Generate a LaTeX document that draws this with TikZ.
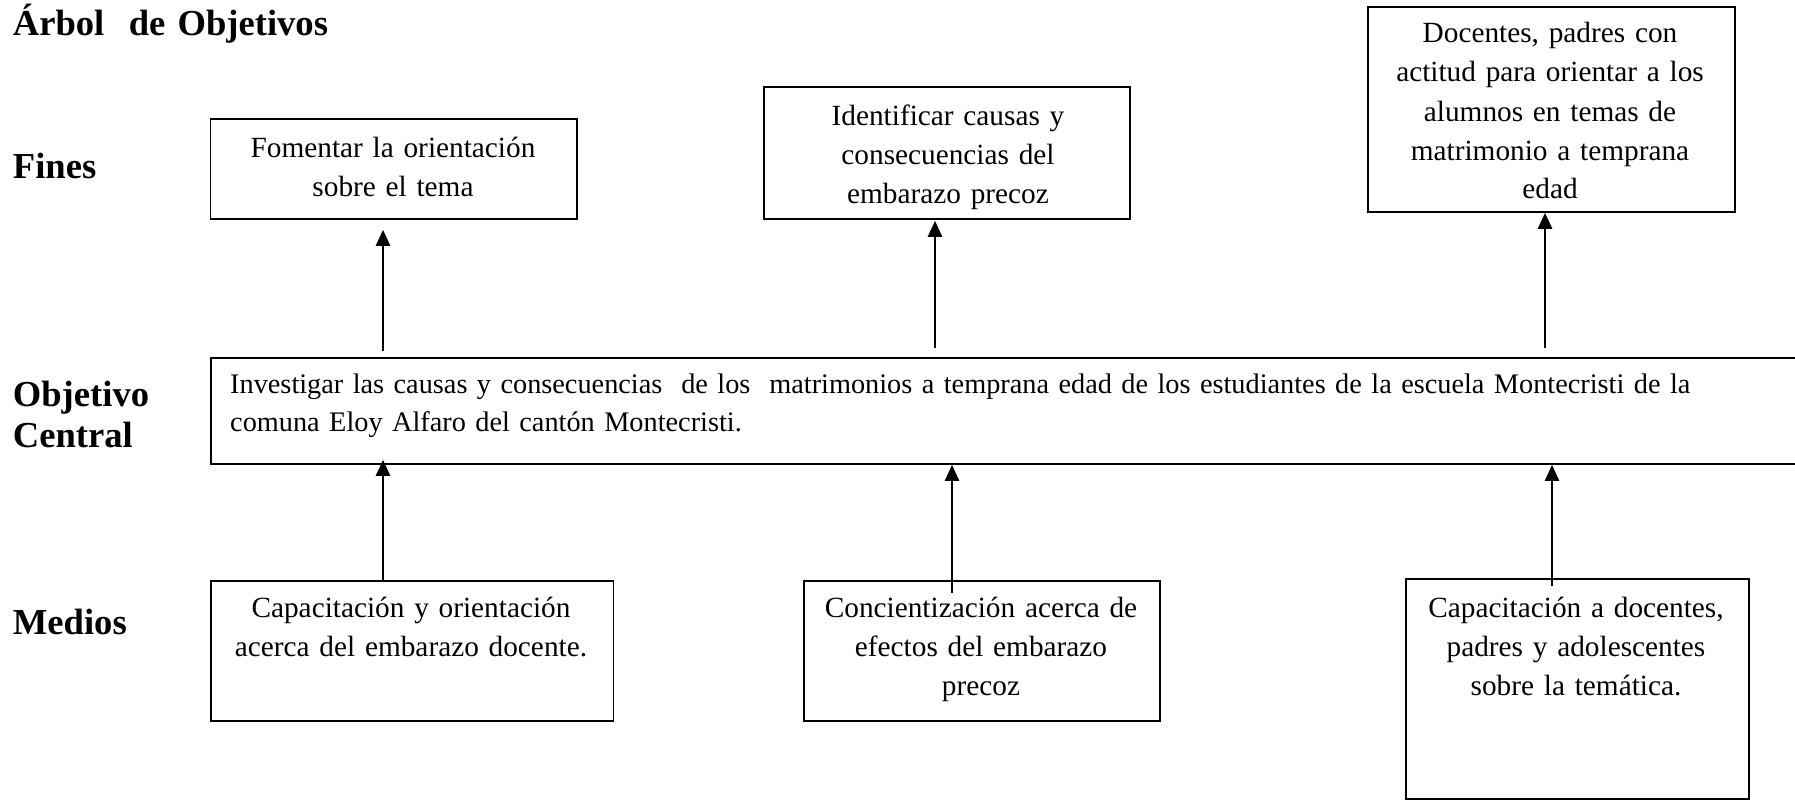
\documentclass[tikz,border=0pt]{standalone}
\usepackage{fontspec}
\setmainfont{Liberation Serif}
\usetikzlibrary{arrows.meta}
\newcommand{\regfont}{\fontsize{29.3pt}{39pt}\selectfont}
\newcommand{\cenfont}{\fontsize{28.3pt}{38pt}\selectfont}
\newcommand{\lblfont}{\fontsize{36.6pt}{41pt}\selectfont\bfseries}
\begin{document}
\begin{tikzpicture}[x=1pt,y=-1pt,
  box/.style={draw, line width=1.8pt, rectangle, inner sep=0pt, anchor=north west},
  txt/.style={font=\regfont, text width=420pt, align=center, inner sep=0pt, anchor=base},
  lbl/.style={font=\lblfont, text width=340pt, align=left, inner sep=0pt, anchor=base west},
  arr/.style={line width=2.4pt, -{Triangle[length=16pt,width=14pt]}}
]
\useasboundingbox (0,0) rectangle (1795,800);

% labels
\node[lbl] (title) at (12.7,36) {Árbol\ \ de Objetivos};
\node[lbl] (lfines) at (12.7,178) {Fines};
\node[lbl] (lobj) at (12.7,406) {Objetivo\\Central};
\node[lbl] (lmed) at (12.7,634) {Medios};

% fines boxes
\node[box, minimum width=366.5pt, minimum height=100pt] (f1) at (209.5,118) {};
\node[box, minimum width=366pt, minimum height=132pt] (f2) at (763,86) {};
\node[box, minimum width=367pt, minimum height=205pt] (f3) at (1367,6) {};

\node[txt] (t1) at (393,157) {Fomentar la orientación\\sobre el tema};
\node[txt] (t2) at (948,125) {Identificar causas y\\consecuencias del\\embarazo precoz};
\node[txt] (t3) at (1550,43) {Docentes, padres con\\actitud para orientar a los\\alumnos en temas de\\matrimonio a temprana\\edad};

% central box
\node[box, minimum width=1600pt, minimum height=106pt] (cen) at (210,357) {};
\node[txt, text width=1540pt, align=left, anchor=base west, font=\cenfont] (tc) at (230,393)
  {Investigar las causas y consecuencias\ \ de los\ \ matrimonios a temprana edad de los estudiantes de la escuela Montecristi de la\\comuna Eloy Alfaro del cantón Montecristi.};

% medios boxes
\node[box, minimum width=402.5pt, minimum height=140pt] (m1) at (210,580) {};
\node[box, minimum width=356pt, minimum height=140pt] (m2) at (803,580) {};
\node[box, minimum width=343pt, minimum height=220pt] (m3) at (1405,578) {};

\node[txt] (tm1) at (411,617) {Capacitación y orientación\\acerca del embarazo docente.};
\node[txt] (tm2) at (981,617) {Concientización acerca de\\efectos del embarazo\\precoz};
\node[txt] (tm3) at (1576,617) {Capacitación a docentes,\\padres y adolescentes\\sobre la temática.};

% arrow columns
\coordinate (x1) at (383,0);
\coordinate (x2) at (935,0);
\coordinate (x3) at (1545,0);
\coordinate (y1) at (383,0);
\coordinate (y2) at (952,0);
\coordinate (y3) at (1552,0);

\draw[arr, shorten <=6pt, shorten >=10pt] (x1 |- cen.north) -- (x1 |- f1.south);
\draw[arr, shorten <=9pt, shorten >=1pt] (x2 |- cen.north) -- (x2 |- f2.south);
\draw[arr, shorten <=9pt] (x3 |- cen.north) -- (x3 |- f3.south);

\draw[arr, shorten >=-5pt] (y1 |- m1.north) -- (y1 |- cen.south);
\draw[arr, shorten <=-13pt] (y2 |- m2.north) -- (y2 |- cen.south);
\draw[arr, shorten <=-8pt] (y3 |- m3.north) -- (y3 |- cen.south);
\end{tikzpicture}
\end{document}
